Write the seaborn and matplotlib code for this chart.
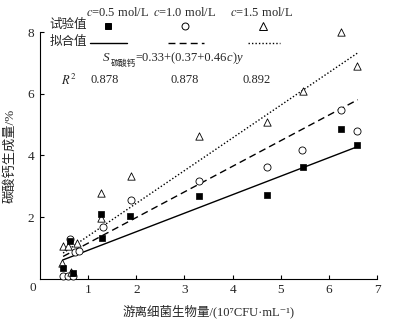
import matplotlib
matplotlib.use("Agg")
import matplotlib.pyplot as plt
from matplotlib.lines import Line2D
import numpy as np
import pandas as pd
import seaborn as sns

sns.set_theme(style="ticks")
plt.rcParams["font.family"] = ["Liberation Serif", "DejaVu Serif", "Noto Sans CJK SC"]
plt.rcParams["mathtext.fontset"] = "stix"
plt.rcParams["axes.unicode_minus"] = False

# Measured points for each concentration
sq_x = [0.48, 0.62, 0.69, 1.26, 1.29, 1.87, 3.30, 4.72, 5.46, 6.25, 6.58]
sq_y = [0.35, 1.24, 0.20, 2.09, 1.33, 2.03, 2.69, 2.72, 3.63, 4.87, 4.33]

ci_x = [0.47, 0.59, 0.68, 0.62, 0.73, 0.82, 1.30, 1.88, 3.30, 4.72, 5.45, 6.26, 6.58]
ci_y = [0.10, 0.08, 0.08, 1.28, 0.88, 0.90, 1.69, 2.55, 3.17, 3.62, 4.19, 5.48, 4.80]

tr_x = [0.45, 0.48, 0.59, 0.64, 0.77, 1.26, 1.26, 1.88, 3.30, 4.72, 5.46, 6.26, 6.58]
tr_y = [0.53, 1.06, 1.06, 0.24, 1.17, 2.78, 1.97, 3.35, 4.62, 5.10, 6.10, 8.01, 6.90]

# Fitted model S = a + (b + k*c) * y
concs = [0.5, 1.0, 1.5]
fit_a, fit_b, fit_k = 0.33, 0.37, 0.46
r2_values = ["0.878", "0.878", "0.892"]
fit_range = [0.48, 6.6]

xticks = [1, 2, 3, 4, 5, 6, 7]
yticks = [2, 4, 6, 8]

fig = plt.figure(figsize=(3.94, 3.27), dpi=100)
ax = fig.add_axes([0.1015, 0.147, 0.8555, 0.755])

line_styles = ["-", (0, (5, 3)), (0, (1, 1.5))]

# fitted lines
for c, ls in zip(concs, line_styles):
    xs = np.array(fit_range)
    df_fit = pd.DataFrame({"x": xs, "y": fit_a + (fit_b + fit_k * c) * xs})
    sns.lineplot(data=df_fit, x="x", y="y", ax=ax, color="black",
                 linewidth=1.0, linestyle=ls)

# measured points
sns.scatterplot(x=sq_x, y=sq_y, ax=ax, marker="s", s=22, color="black",
                edgecolor="black", linewidth=0.5, zorder=4, clip_on=False)
sns.scatterplot(x=ci_x, y=ci_y, ax=ax, marker="o", s=26, facecolor="white",
                edgecolor="black", linewidth=0.6, zorder=3, clip_on=False)
sns.scatterplot(x=tr_x, y=tr_y, ax=ax, marker="^", s=28, facecolor="white",
                edgecolor="black", linewidth=0.6, zorder=3, clip_on=False)

ax.set_xlim(0, 7)
ax.set_ylim(0, 8)
ax.set_xticks(xticks)
ax.set_yticks(yticks)
ax.set_xticklabels([str(t) for t in xticks], fontsize=9.5)
ax.set_yticklabels([str(t) for t in yticks], fontsize=9.5)
ax.tick_params(direction="in", length=3, width=0.8, color="black", pad=4)
for side in ["top", "right"]:
    ax.spines[side].set_visible(False)
for side in ["left", "bottom"]:
    ax.spines[side].set_linewidth(0.8)
    ax.spines[side].set_color("black")

ax.set_xlabel("游离细菌生物量/(10⁷CFU·mL⁻¹)", fontsize=9, labelpad=6)
ax.set_ylabel("碳酸钙生成量/%", fontsize=9.5, labelpad=8)
fig.text(33 / 394, 1 - 288 / 327, "0", fontsize=9.5, ha="center", va="center")

# Legend block at the top
def fx(px):
    return px / 394

def fy(py):
    return 1 - py / 327

col_x = [118, 185, 262]
for cx, c in zip(col_x, concs):
    fig.text(fx(cx), fy(12), f"$c$={c:.1f} mol/L", fontsize=9,
             ha="center", va="center")

fig.text(fx(68), fy(25), "试验值", fontsize=9, ha="center", va="center")
fig.text(fx(68), fy(42), "拟合值", fontsize=9, ha="center", va="center")

mk = [dict(marker="s", markerfacecolor="black", markersize=4.5),
      dict(marker="o", markerfacecolor="white", markersize=5),
      dict(marker="^", markerfacecolor="white", markersize=5.5)]
mk_x = [108, 185, 263]
for mx, m in zip(mk_x, mk):
    fig.add_artist(Line2D([fx(mx)], [fy(26)], transform=fig.transFigure,
                          linestyle="none", markeredgecolor="black",
                          markeredgewidth=0.7, **m))

seg = [(90, 127), (168, 204), (248, 280)]
for (x0, x1), ls in zip(seg, line_styles):
    fig.add_artist(Line2D([fx(x0), fx(x1)], [fy(43), fy(43)],
                          transform=fig.transFigure, color="black",
                          linewidth=1.0, linestyle=ls))

# Equation with a CJK subscript, assembled piece by piece
t_s = fig.text(fx(103), fy(64), "S", fontsize=9.5, fontstyle="italic",
               ha="left", va="bottom")
t_sub = ax.annotate("碳酸钙", xy=(1, 0), xycoords=t_s, xytext=(0.5, -2.5),
                    textcoords="offset points", fontsize=6, ha="left",
                    va="bottom", annotation_clip=False)
prev = ax.annotate("=0.33+(0.37+0.46", xy=(1, 0), xycoords=(t_sub, t_s),
                   fontsize=9, ha="left", va="bottom", annotation_clip=False)
for piece, style in [("c", "italic"), (")", "normal"), ("y", "italic")]:
    prev = ax.annotate(piece, xy=(1, 0), xycoords=(prev, t_s),
                       fontsize=9, fontstyle=style, ha="left", va="bottom",
                       annotation_clip=False)

fig.text(fx(69), fy(80), "$R^2$", fontsize=9, ha="center", va="center")
r2_x = [105, 185, 257]
for rx, r in zip(r2_x, r2_values):
    fig.text(fx(rx), fy(80), r, fontsize=9, ha="center", va="center")

fig.savefig("out.png", dpi=100)
